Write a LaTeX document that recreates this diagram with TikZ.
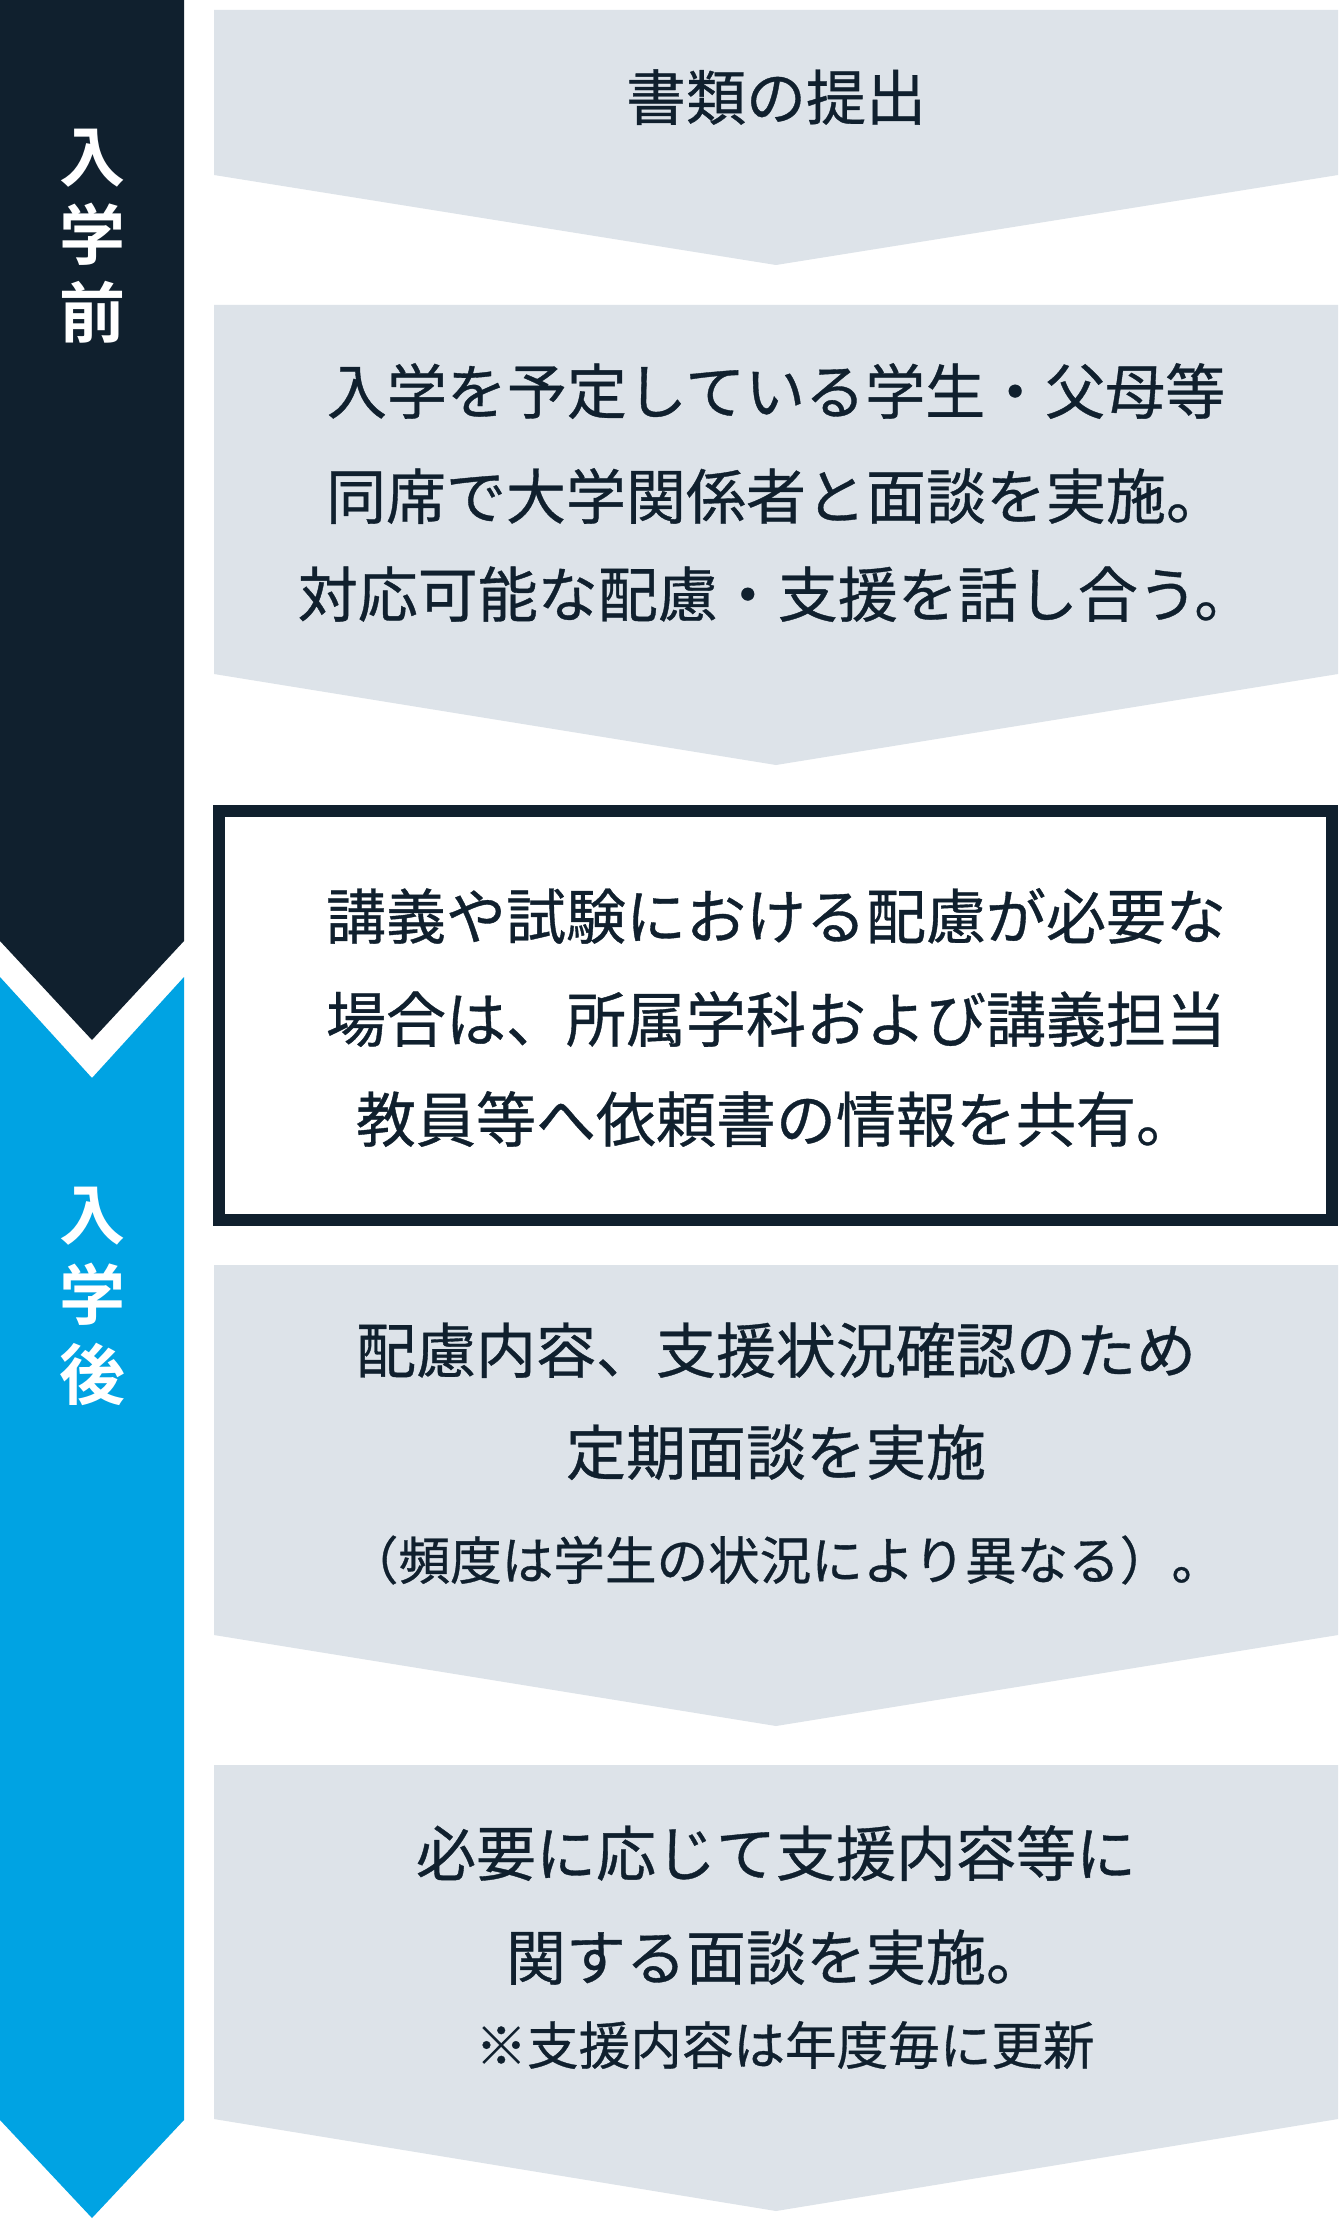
\documentclass[tikz,border=0pt]{standalone}
\usepackage{fontspec}
\newfontfamily\jpm{Noto Sans CJK JP}[FakeBold=0.6]
\newfontfamily\jpb{Noto Sans CJK JP Bold}
\definecolor{navy}{HTML}{10202E}
\definecolor{sky}{HTML}{00A3E3}
\definecolor{pale}{HTML}{DDE3E9}
\tikzset{
  maintext/.style={font=\jpm\fontsize{30pt}{36pt}\selectfont, text=navy, inner sep=0pt,
    text height=25pt, text depth=2.1pt, anchor=center},
  smalltext/.style={font=\jpm\fontsize{25.8pt}{30pt}\selectfont, text=navy, inner sep=0pt,
    text height=21.4pt, text depth=1.8pt, anchor=center},
  sidetext/.style={font=\jpb\fontsize{33pt}{40pt}\selectfont, text=white, inner sep=0pt,
    text height=27.4pt, text depth=2.3pt, anchor=center},
  chevron/.style={fill=pale}
}
\begin{document}
\begin{tikzpicture}[x=0.5pt,y=-0.5pt]
\useasboundingbox (0,0) rectangle (1338,2220);
\fill[white] (0,0) rectangle (1338,2220);
% side bars
\fill[navy] (0,0) -- (184,0) -- (184,941) -- (92,1040) -- (0,941) -- cycle;
\fill[sky] (0,977) -- (92,1078) -- (184,977) -- (184,2120) -- (92,2218) -- (0,2120) -- cycle;
% chevron boxes
\fill[chevron] (214,10) -- (1338,10) -- (1338,175) -- (776,265) -- (214,175) -- cycle;
\fill[chevron] (214,305) -- (1338,305) -- (1338,674) -- (776,765) -- (214,674) -- cycle;
\draw[navy, line width=6pt, fill=white] (219,811) rectangle (1332,1220);
\fill[chevron] (214,1265) -- (1338,1265) -- (1338,1635) -- (776,1726) -- (214,1635) -- cycle;
\fill[chevron] (214,1765) -- (1338,1765) -- (1338,2119) -- (776,2211) -- (214,2119) -- cycle;
% side labels
\node[sidetext] (s1) at (92,156) {入};
\node[sidetext] (s2) at (92,234) {学};
\node[sidetext] (s3) at (92,312) {前};
\node[sidetext] (s4) at (92,1214) {入};
\node[sidetext] (s5) at (92,1294) {学};
\node[sidetext] (s6) at (92,1374) {後};
% texts
\node[maintext] (t1) at (776,97) {書類の提出};
\node[maintext] (t2a) at (776,391) {入学を予定している学生・父母等};
\node[maintext] (t2b) at (776,496) {同席で大学関係者と面談を実施。};
\node[maintext] (t2c) at (776,594) {対応可能な配慮・支援を話し合う。};
\node[maintext] (t3a) at (776,916) {講義や試験における配慮が必要な};
\node[maintext] (t3b) at (776,1019) {場合は、所属学科および講義担当};
\node[maintext] (t3c) at (776,1119) {教員等へ依頼書の情報を共有。};
\node[maintext] (t4a) at (776,1350) {配慮内容、支援状況確認のため};
\node[maintext] (t4b) at (776,1452) {定期面談を実施};
\node[smalltext] (t4c) at (785,1560) {（頻度は学生の状況により異なる）。};
\node[maintext] (t5a) at (776,1853) {必要に応じて支援内容等に};
\node[maintext] (t5b) at (776,1957) {関する面談を実施。};
\node[smalltext] (t5c) at (785,2045) {※支援内容は年度毎に更新};
\end{tikzpicture}
\end{document}
